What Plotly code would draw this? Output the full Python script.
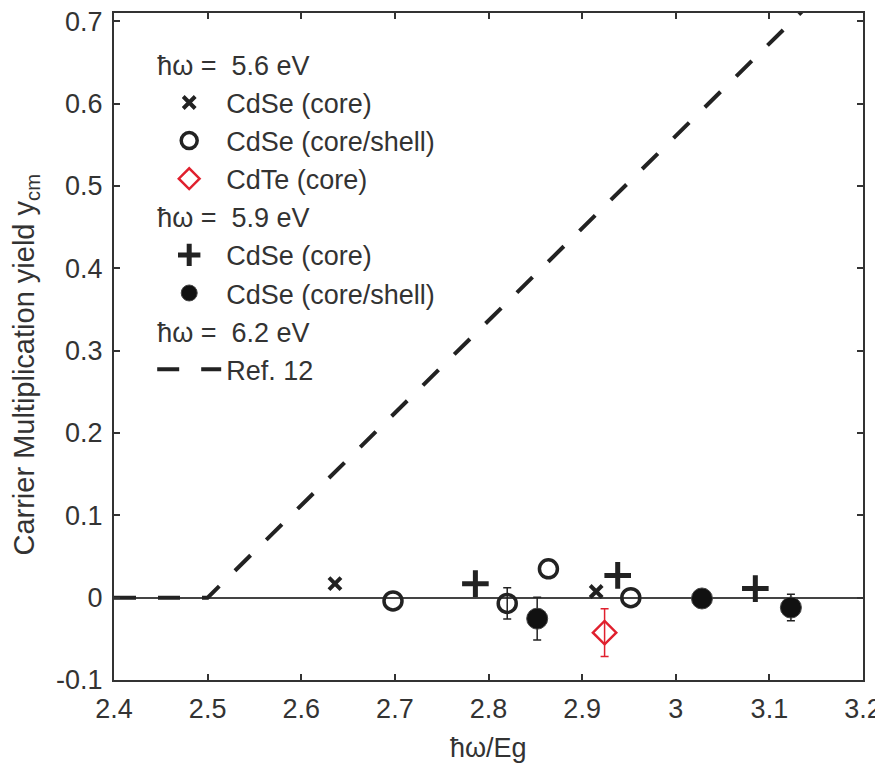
import plotly.graph_objects as go

# ħω = 5.6 eV
cdse_core_56_x = [2.636, 2.915]
cdse_core_56_y = [0.017, 0.0075]
cdse_cs_56_x = [2.820, 2.698, 2.864, 2.952]
cdse_cs_56_y = [-0.007, -0.004, 0.035, 0.0]
cdse_cs_56_err = [0.019]
cdte_core_56_x = [2.924]
cdte_core_56_y = [-0.0425]
cdte_core_56_err = [0.029]
# ħω = 5.9 eV
cdse_core_59_x = [2.786, 2.938, 3.085]
cdse_core_59_y = [0.017, 0.027, 0.011]
cdse_cs_59_x = [2.852, 3.123, 3.028]
cdse_cs_59_y = [-0.0255, -0.012, -0.001]
cdse_cs_59_err = [0.026, 0.016]
# ħω = 6.2 eV, Ref. 12
ref12_x = [2.4, 2.5, 3.2]
ref12_y = [0.0, 0.0, 0.785]

FONT = "Liberation Sans"
TXT = "#333333"
DARK = "#222222"
RED = "#e0202e"
lfont = dict(family=FONT, size=27, color=TXT)

fig = go.Figure()
fig.add_trace(go.Scatter(
    x=cdse_core_56_x, y=cdse_core_56_y, mode="markers", name="CdSe (core)",
    legendgroup="g56", legendgrouptitle=dict(text="ħω =  5.6 eV", font=lfont),
    marker=dict(symbol="x-thin", size=12, color=DARK, line=dict(width=4, color=DARK))))
fig.add_trace(go.Scatter(
    x=cdse_cs_56_x, y=cdse_cs_56_y, mode="markers", name="CdSe (core/shell)",
    legendgroup="g56",
    error_y=dict(type="data", array=cdse_cs_56_err, color=DARK, thickness=1.5, width=4),
    marker=dict(symbol="circle-open", size=18, color=DARK, line=dict(width=3.5, color=DARK))))
fig.add_trace(go.Scatter(
    x=cdte_core_56_x, y=cdte_core_56_y, mode="markers", name="CdTe (core)",
    legendgroup="g56",
    error_y=dict(type="data", array=cdte_core_56_err, color=RED, thickness=1.5, width=4),
    marker=dict(symbol="diamond-open", size=18, color=RED, line=dict(width=2.5, color=RED))))
fig.add_trace(go.Scatter(
    x=cdse_core_59_x, y=cdse_core_59_y, mode="markers", name="CdSe (core)",
    legendgroup="g59", legendgrouptitle=dict(text="ħω =  5.9 eV", font=lfont),
    marker=dict(symbol="cross-thin", size=19, color=DARK, line=dict(width=5, color=DARK))))
fig.add_trace(go.Scatter(
    x=cdse_cs_59_x, y=cdse_cs_59_y, mode="markers", name="CdSe (core/shell)",
    legendgroup="g59",
    error_y=dict(type="data", array=cdse_cs_59_err, color=DARK, thickness=1.5, width=4),
    marker=dict(symbol="circle", size=21, color="#111111", line=dict(width=1, color="#444444"))))
fig.add_trace(go.Scatter(
    x=ref12_x, y=ref12_y, mode="lines", name="Ref. 12",
    legendgroup="g62", legendgrouptitle=dict(text="ħω =  6.2 eV", font=lfont),
    line=dict(color=DARK, width=4, dash="22px,22px")))

axis_common = dict(
    showline=True, linecolor="#333333", linewidth=2, mirror="ticks",
    ticks="inside", ticklen=6, tickwidth=1.5, tickcolor="#333333",
    showgrid=False, automargin=False, ticklabeloverflow="allow",
    tickfont=dict(family=FONT, size=27, color=TXT),
)
fig.update_xaxes(range=[2.4, 3.2], dtick=0.1, tickformat="~g", zeroline=False,
                 ticklabelstandoff=4, **axis_common)
fig.update_yaxes(range=[-0.1, 0.71], tickvals=[-0.1, 0, 0.1, 0.2, 0.3, 0.4, 0.5, 0.6, 0.7],
                 ticktext=["-0.1", "0", "0.1", "0.2", "0.3", "0.4", "0.5", "0.6", "0.7"],
                 zeroline=True, zerolinecolor="#444444", zerolinewidth=1.5,
                 ticklabelstandoff=4, **axis_common)
fig.update_layout(
    width=875, height=758, plot_bgcolor="white", paper_bgcolor="white",
    margin=dict(l=106, r=20, t=5, b=86),
    font=dict(family=FONT, size=27, color=TXT),
    legend=dict(x=0.051, y=0.959, xanchor="left", yanchor="top", bgcolor="rgba(0,0,0,0)",
                font=lfont, itemwidth=64, tracegroupgap=0, traceorder="grouped"),
    annotations=[
        dict(text="Carrier Multiplication yield y<sub>cm</sub>", textangle=-90,
             xref="paper", yref="paper", x=-0.117, y=0.4735, xanchor="center", yanchor="middle",
             showarrow=False, font=dict(family=FONT, size=29, color=TXT)),
        dict(text="ħω/Eg", xref="paper", yref="paper", x=0.5, y=-0.102,
             xanchor="center", yanchor="middle", showarrow=False,
             font=dict(family=FONT, size=27, color=TXT)),
    ],
)
fig.write_html("out.html")
